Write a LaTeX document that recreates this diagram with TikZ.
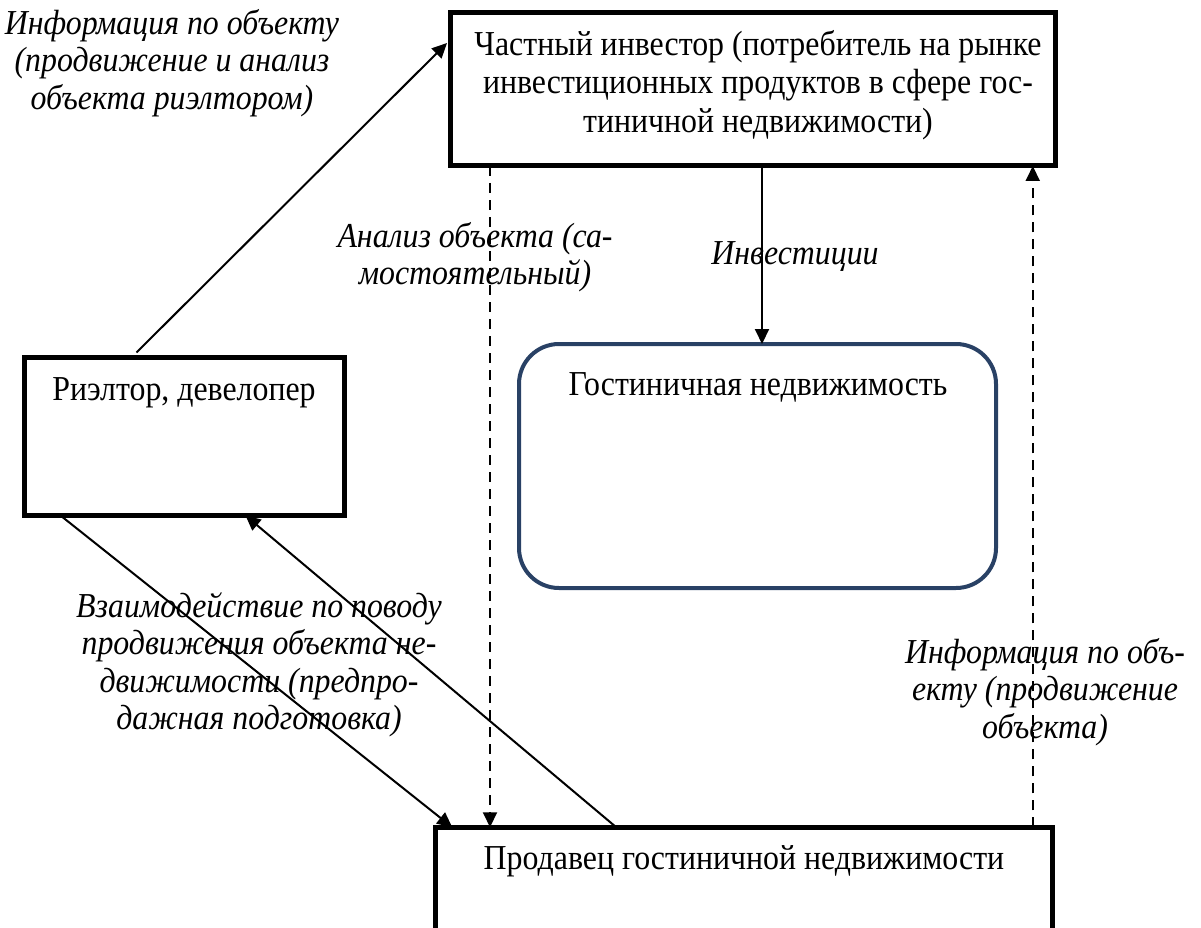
\documentclass[tikz,border=0pt]{standalone}
\usepackage{fontspec}
\setmainfont{Liberation Serif}[FakeStretch=0.91]
\usetikzlibrary{arrows.meta,calc}

\begin{document}
\begin{tikzpicture}[x=1pt,y=-1pt,
  box/.style={draw,line width=5pt,inner sep=0pt,outer sep=0pt},
  roundbox/.style={draw={rgb,255:red,41;green,65;blue,101},line width=4pt,rounded corners=40pt,inner sep=0pt,outer sep=0pt},
  txt/.style={font=\fontsize{35}{38.5}\selectfont,align=center,inner sep=0pt},
  lbl/.style={font=\fontsize{35}{37.5}\selectfont\itshape,align=center,inner sep=0pt},
  conn/.style={line width=2pt,-{Triangle[length=15pt,width=14pt]}},
  dconn/.style={conn,dash pattern=on 10pt off 7pt}]
\useasboundingbox (0,0) rectangle (1201,928);

% boxes
\node[box,minimum width=605pt,minimum height=153pt] (inv) at (752.5,89.5) {};
\node[box,minimum width=320pt,minimum height=158pt] (real) at (184.5,436.5) {};
\node[roundbox,minimum width=477pt,minimum height=244pt] (hotel) at (757.5,466) {};
\node[box,minimum width=617.5pt,minimum height=117.5pt] (sell) at (744,886) {};

% box captions
\node[txt] (invT) at (758,85) {Частный инвестор (потребитель на рынке\\инвестиционных продуктов в сфере гос-\\тиничной недвижимости)};
\node[txt] (realT) at (184,393) {Риэлтор, девелопер};
\node[txt] (hotelT) at (758,387) {Гостиничная недвижимость};
\node[txt] (sellT) at (744,861) {Продавец гостиничной недвижимости};

% connector labels
\node[lbl] (l1) at (172,63) {Информация по объекту\\(продвижение и анализ\\объекта риэлтором)};
\node[lbl] (l2) at (475,257) {Анализ объекта (са-\\мостоятельный)};
\node[lbl] (l3) at (795,257) {Инвестиции};
\node[lbl] (l4) at (259,665) {Взаимодействие по поводу\\продвижения объекта не-\\движимости (предпро-\\дажная подготовка)};
\node[lbl] (l5) at (1045,692) {Информация по объ-\\екту (продвижение\\объекта)};

% connectors
\coordinate (a1s) at ($(real.north west)+(112,-5)$);
\draw[conn] (a1s) -- ($(inv.north west)+(-3,30)$);
\coordinate (a2s) at ($(inv.south west)+(312,0)$);
\draw[conn] (a2s) -- (a2s |- hotel.north);
\coordinate (a3s) at ($(inv.south west)+(40,0)$);
\draw[dconn] (a3s) -- (a3s |- sell.north);
\coordinate (a4s) at ($(sell.north west)+(597.5,0)$);
\draw[dconn] (a4s) -- (a4s |- inv.south);
\draw[conn] ($(real.south west)+(36,0)$) -- ($(sell.north west)+(17,0)$);
\draw[conn] ($(sell.north west)+(181,0)$) -- ($(real.south west)+(221,0)$);
\end{tikzpicture}
\end{document}
